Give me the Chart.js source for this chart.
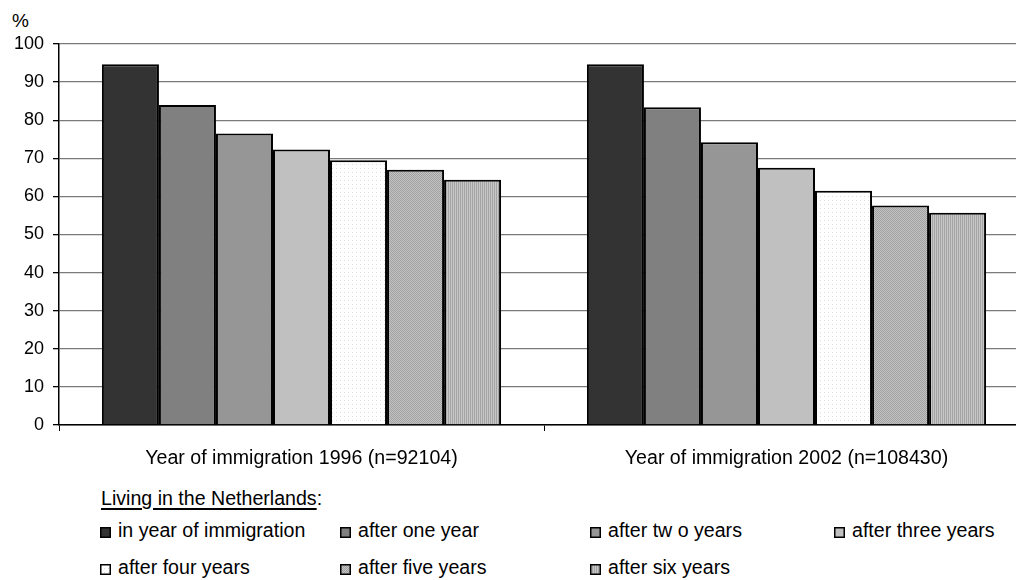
<!DOCTYPE html>
<html lang="en">
<head>
<meta charset="UTF-8">
<title>Living in the Netherlands</title>
<script src="https://cdn.jsdelivr.net/npm/chart.js"></script>
<style>
  html, body { margin: 0; padding: 0; background: #fff; overflow: hidden; width: 1016px; height: 580px; }
  body { position: relative; font-family: "Liberation Sans", Arial, sans-serif; color: #000; }
  #pct { position: absolute; left: 12px; top: 11px; font-size: 19px; line-height: 1; }
  #box { position: absolute; left: 0; top: 0; width: 1060px; height: 480px; }
  #legend { position: absolute; left: 0; top: 0; font-size: 19.6px; line-height: 1; }
  #legend .title { position: absolute; left: 101px; top: 489px; white-space: nowrap; }
  #legend .title u { text-decoration-thickness: 1.5px; text-underline-offset: 3px; }
  .item { position: absolute; white-space: nowrap; }
  .item canvas { position: absolute; left: 0; top: 6px; }
  .item span { position: absolute; left: 18px; top: 0; }
</style>
</head>
<body>
<div id="pct">%</div>
<div id="box"><canvas id="chart1"></canvas></div>
<div id="legend">
  <div class="title"><u>Living in the Netherlands</u>:</div>
</div>
<script>
// categories and series
var categories = ['Year of immigration 1996 (n=92104)', 'Year of immigration 2002 (n=108430)'];
var seriesNames = ['in year of immigration', 'after one year', 'after tw o years', 'after three years',
                   'after four years', 'after five years', 'after six years'];
var inYear     = [94.7, 94.7];
var oneYear    = [84.0, 83.4];
var twoYears   = [76.5, 74.2];
var threeYears = [72.3, 67.5];
var fourYears  = [69.5, 61.5];
var fiveYears  = [67.0, 57.6];
var sixYears   = [64.4, 55.7];
var yTicks = [0, 10, 20, 30, 40, 50, 60, 70, 80, 90, 100];

// fills: plain greys and a few fine patterns
function makePattern(kind) {
  var c = document.createElement('canvas');
  c.width = 4; c.height = 4;
  var g = c.getContext('2d');
  if (kind == 'dots') {
    g.fillStyle = '#ffffff'; g.fillRect(0, 0, 4, 4);
    g.fillStyle = '#dcdcdc'; g.fillRect(0, 0, 1, 1);
  } else if (kind == 'check') {
    g.fillStyle = '#c4c4c4'; g.fillRect(0, 0, 4, 4);
    g.fillStyle = '#a0a0a0';
    g.fillRect(0, 0, 1, 1); g.fillRect(2, 0, 1, 1); g.fillRect(1, 1, 1, 1); g.fillRect(3, 1, 1, 1);
    g.fillRect(0, 2, 1, 1); g.fillRect(2, 2, 1, 1); g.fillRect(1, 3, 1, 1); g.fillRect(3, 3, 1, 1);
  } else {
    g.fillStyle = '#c8c8c8'; g.fillRect(0, 0, 4, 4);
    g.fillStyle = '#a4a4a4'; g.fillRect(0, 0, 1, 4); g.fillRect(2, 0, 1, 4);
  }
  return g.createPattern(c, 'repeat');
}

var fills = ['#333333', '#808080', '#969696', '#c0c0c0', 'dots', 'check', 'stripes'];
function fillFor(f) {
  if (f.charAt(0) == '#') return f;
  return makePattern(f);
}

var allData = [inYear, oneYear, twoYears, threeYears, fourYears, fiveYears, sixYears];
var datasets = allData.map(function (d, i) {
  return {
    label: seriesNames[i],
    data: d,
    backgroundColor: fillFor(fills[i]),
    borderColor: '#000000',
    borderWidth: 2,
    borderSkipped: 'start',
    categoryPercentage: 0.823,
    barPercentage: 1.0
  };
});

var ctx = document.getElementById('chart1').getContext('2d');
var myChart = new Chart(ctx, {
  type: 'bar',
  data: { labels: categories, datasets: datasets },
  options: {
    responsive: true,
    maintainAspectRatio: false,
    animation: false,
    layout: { padding: { left: 0, top: 44, right: 31, bottom: 0 } },
    plugins: { legend: { display: false }, tooltip: { enabled: false } },
    scales: {
      x: {
        grid: { display: true, drawOnChartArea: false, offset: true, tickLength: 6, color: '#000', lineWidth: 1 },
        border: { color: '#000', width: 1.5 },
        ticks: { color: '#000', font: { family: 'Liberation Sans', size: 19.6 }, padding: 16, maxRotation: 0 },
        afterFit: function (s) { s.height = 55; }
      },
      y: {
        min: 0, max: 100,
        afterBuildTicks: function (s) { s.ticks = yTicks.map(function (v) { return { value: v }; }); },
        grid: { color: '#7a7a7a', lineWidth: 1.3, tickLength: 6, tickColor: '#000' },
        border: { color: '#000', width: 1.5 },
        ticks: { color: '#000', font: { family: 'Liberation Sans', size: 18 }, padding: 9 },
        afterFit: function (s) { s.width = 59; }
      }
    }
  }
});

// legend built by hand, same fills as the bars
var legendPos = [[100, 521], [340, 521], [590, 521], [834, 521], [100, 558], [340, 558], [590, 558]];
var legend = document.getElementById('legend');
seriesNames.forEach(function (name, i) {
  var item = document.createElement('div');
  item.className = 'item';
  item.style.left = legendPos[i][0] + 'px';
  item.style.top = legendPos[i][1] + 'px';
  var sw = document.createElement('canvas');
  sw.width = 11; sw.height = 11;
  var g = sw.getContext('2d');
  g.fillStyle = fillFor(fills[i]);
  g.fillRect(0, 0, 11, 11);
  g.strokeStyle = '#000'; g.lineWidth = 1.5;
  g.strokeRect(0.75, 0.75, 9.5, 9.5);
  var t = document.createElement('span');
  t.textContent = name;
  item.appendChild(sw); item.appendChild(t);
  legend.appendChild(item);
});
</script>
</body>
</html>
